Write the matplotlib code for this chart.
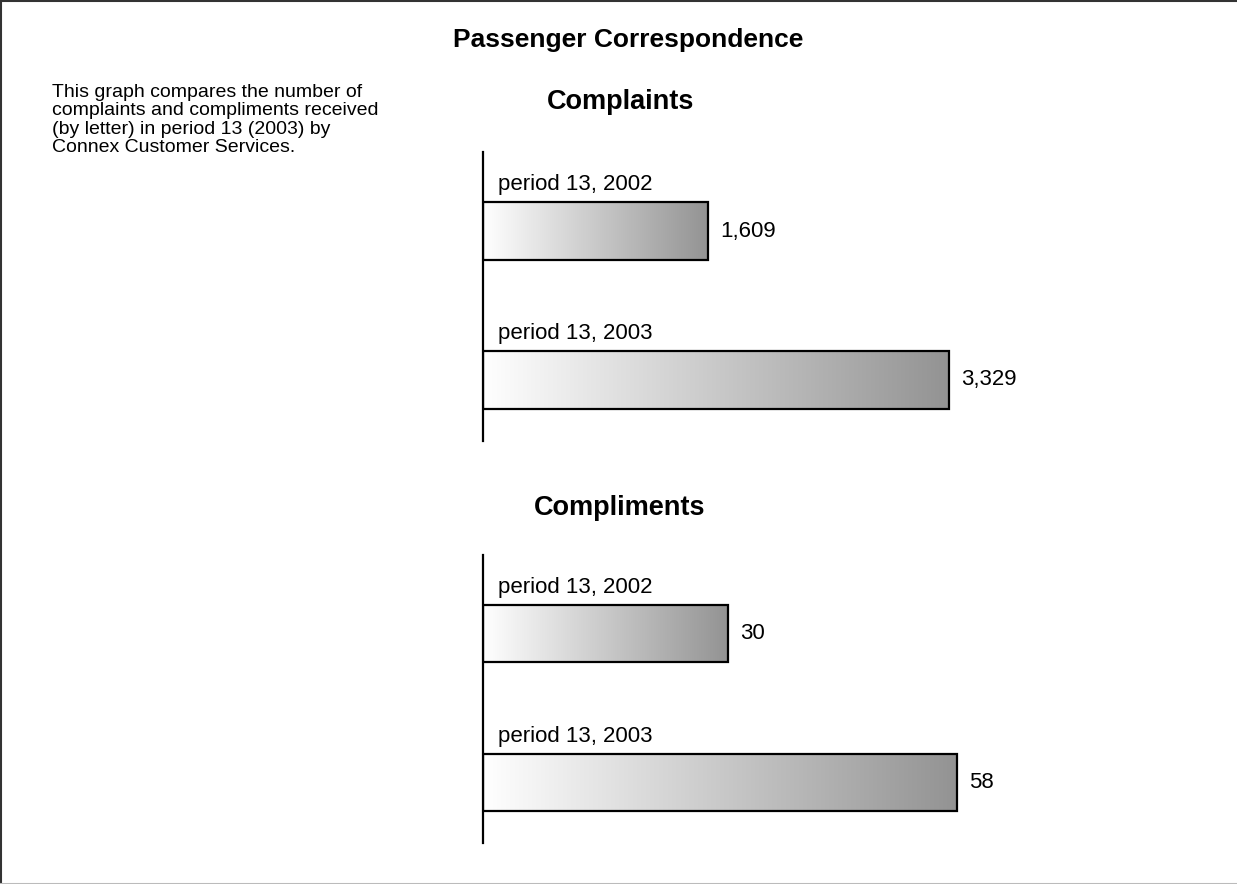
import numpy as np
import matplotlib.pyplot as plt
from matplotlib.colors import LinearSegmentedColormap
from matplotlib.lines import Line2D

plt.rcParams['font.family'] = ['Liberation Sans', 'DejaVu Sans']

# data
periods = ["period 13, 2002", "period 13, 2003"]
complaints = [1609, 3329]
compliments = [30, 58]
complaint_labels = ["1,609", "3,329"]
compliment_labels = ["30", "58"]

W, H = 1237, 884
fig = plt.figure(figsize=(W / 100, H / 100), dpi=100)

# linear white -> grey fill across each bar
grad = LinearSegmentedColormap.from_list("g", ["#ffffff", "#939393"])


def px_axes(x0, y0, x1, y1):
    # pixel box (top-left origin) -> figure axes
    return fig.add_axes([x0 / W, 1 - y1 / H, (x1 - x0) / W, (y1 - y0) / H])


def panel(ax, values, labels, xmax):
    ypos = np.arange(len(values))
    h = 0.385
    g = np.linspace(0, 1, 256).reshape(1, -1)
    for y, v, lab, per in zip(ypos, values, labels, periods):
        ax.imshow(g, cmap=grad, aspect='auto', extent=[0, v, y + h / 2, y - h / 2],
                  interpolation='bilinear', zorder=1)
        ax.barh(y, v, height=h, color='none', edgecolor='black', linewidth=1.6, zorder=2)
        ax.annotate(lab, xy=(v, y), xytext=(12, 0), textcoords='offset pixels',
                    ha='left', va='center', fontsize=16)
        ax.annotate(per, xy=(0, y - h / 2), xytext=(15, 7), textcoords='offset pixels',
                    ha='left', va='bottom', fontsize=16)
    ax.set_xlim(0, xmax)
    ax.set_ylim(1 + 61 / 149, -79 / 149)
    for s in ['top', 'right', 'bottom']:
        ax.spines[s].set_visible(False)
    ax.spines['left'].set_linewidth(1.6)
    ax.set_xticks([])
    ax.set_yticks([])
    ax.patch.set_alpha(0)


ax1 = px_axes(483, 152, 1100, 441)
panel(ax1, complaints, complaint_labels, complaints[1] * 617 / 466)

ax2 = px_axes(483, 555, 1100, 843)
panel(ax2, compliments, compliment_labels, compliments[1] * 617 / 474)

fig.text(628 / W, 1 - 40 / H, "Passenger Correspondence", ha='center', va='center',
         fontsize=19, fontweight='bold')
fig.text(621 / W, 1 - 102 / H, "Complaints", ha='center', va='center',
         fontsize=19.5, fontweight='bold')
fig.text(620 / W, 1 - 508 / H, "Compliments", ha='center', va='center',
         fontsize=19.5, fontweight='bold')
fig.text(52 / W, 1 - 84 / H,
         "This graph compares the number of\ncomplaints and compliments received\n"
         "(by letter) in period 13 (2003) by\nConnex Customer Services.",
         ha='left', va='top', fontsize=14, linespacing=1.1)

# frame
fig.add_artist(Line2D([0, 1], [1 - 0.5 / H, 1 - 0.5 / H], color='#333333', lw=1.5))
fig.add_artist(Line2D([0.5 / W, 0.5 / W], [0, 1], color='#333333', lw=1.5))
fig.add_artist(Line2D([0, 1], [0.5 / H, 0.5 / H], color='#bbbbbb', lw=1.5))

fig.savefig("out.png", dpi=100)
